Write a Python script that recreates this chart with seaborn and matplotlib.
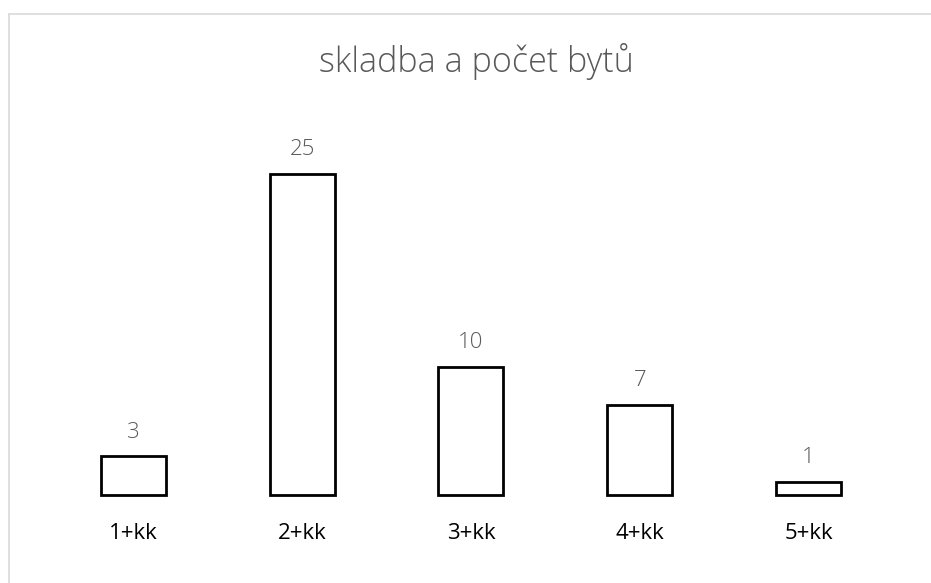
import matplotlib
matplotlib.use('Agg')
import matplotlib.pyplot as plt
import seaborn as sns
import pandas as pd
from matplotlib.lines import Line2D

categories = ['1+kk', '2+kk', '3+kk', '4+kk', '5+kk']
counts = [3, 25, 10, 7, 1]

df = pd.DataFrame({'typ': categories, 'pocet': counts})

sns.set_style('white')
plt.rcParams['font.family'] = ['Open Sans', 'DejaVu Sans']

fig = plt.figure(figsize=(9.31, 5.83), dpi=100)
ax = fig.add_axes([0.0526, 0.151, 0.9066, 0.6167])

sns.barplot(data=df, x='typ', y='pocet', ax=ax, color='white',
            edgecolor='black', linewidth=2, width=0.385)
for p in ax.patches:
    p.set_clip_on(False)

for i, v in enumerate(counts):
    ax.annotate(str(v), (i, v), xytext=(0, 10), textcoords='offset points',
                ha='center', va='bottom', fontsize=16, color='#595959',
                fontweight='light')

ax.set_xlim(-0.5, 4.5)
ax.set_ylim(0, 28)
ax.set_xlabel('')
ax.set_ylabel('')
ax.set_yticks([])
ax.tick_params(axis='x', length=0, labelsize=16, colors='black', pad=20)
sns.despine(ax=ax, left=True, bottom=True)

fig.text(0.512, 0.895, 'skladba a počet bytů', ha='center', va='center',
         fontsize=24.5, color='#595959', fontweight='light')

# light frame of the chart area
fig.add_artist(Line2D([0.0097, 1.0], [0.976, 0.976], color='#d9d9d9', lw=1.2))
fig.add_artist(Line2D([0.0097, 0.0097], [0.0, 0.976], color='#d9d9d9', lw=1.2))

fig.savefig('out.png', dpi=100)
